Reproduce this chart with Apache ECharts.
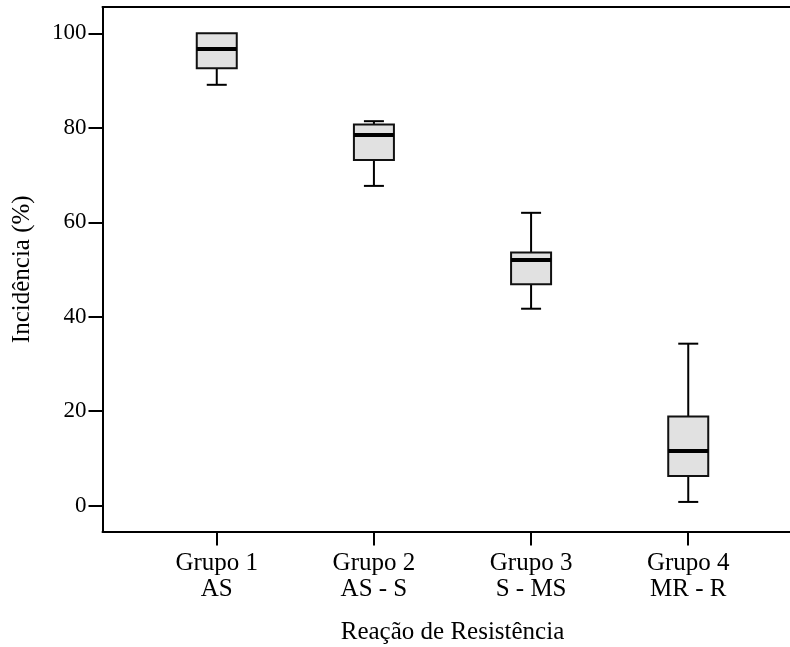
<!DOCTYPE html>
<html>
<head>
<meta charset="utf-8">
<script src="https://cdn.jsdelivr.net/npm/echarts@6/dist/echarts.min.js"></script>
<style>html,body{margin:0;padding:0;background:#fff;overflow:hidden;}#c{width:790px;height:647px;}</style>
</head>
<body>
<div id="c"></div>
<script>
const categories = ['Grupo 1\nAS', 'Grupo 2\nAS - S', 'Grupo 3\nS - MS', 'Grupo 4\nMR - R'];
const lowerWhisker = [89.1, 67.7, 41.7, 0.8];
const q1 = [92.6, 73.2, 46.9, 6.3];
const median = [96.7, 78.5, 52.0, 11.6];
const q3 = [100, 80.7, 53.6, 18.9];
const upperWhisker = [100, 81.4, 62.0, 34.3];
const yTicks = [0, 20, 40, 60, 80, 100];
const xPositions = [1, 2, 3, 4];

const data = categories.map((c, i) => [xPositions[i], lowerWhisker[i], q1[i], median[i], q3[i], upperWhisker[i]]);

const font = 'Liberation Serif';
const chart = echarts.init(document.getElementById('c'), null, {renderer: 'canvas'});

function renderBox(params, api) {
  const x = api.value(0);
  const pLow = api.coord([x, api.value(1)]);
  const pQ1 = api.coord([x, api.value(2)]);
  const pMed = api.coord([x, api.value(3)]);
  const pQ3 = api.coord([x, api.value(4)]);
  const pHigh = api.coord([x, api.value(5)]);
  const cx = pMed[0];
  const bw = 40, cw = 20;
  const line = {stroke: '#000', lineWidth: 2};
  const children = [];
  if (Math.abs(pHigh[1] - pQ3[1]) > 0.5) {
    children.push({type: 'line', shape: {x1: cx, y1: pQ3[1], x2: cx, y2: pHigh[1]}, style: line});
    children.push({type: 'line', shape: {x1: cx - cw / 2, y1: pHigh[1], x2: cx + cw / 2, y2: pHigh[1]}, style: line});
  }
  if (Math.abs(pLow[1] - pQ1[1]) > 0.5) {
    children.push({type: 'line', shape: {x1: cx, y1: pQ1[1], x2: cx, y2: pLow[1]}, style: line});
    children.push({type: 'line', shape: {x1: cx - cw / 2, y1: pLow[1], x2: cx + cw / 2, y2: pLow[1]}, style: line});
  }
  children.push({type: 'rect', shape: {x: cx - bw / 2, y: pQ3[1], width: bw, height: pQ1[1] - pQ3[1]},
    style: {fill: '#e1e1e1', stroke: '#111', lineWidth: 2}});
  children.push({type: 'line', shape: {x1: cx - bw / 2, y1: pMed[1], x2: cx + bw / 2, y2: pMed[1]},
    style: {stroke: '#000', lineWidth: 4}});
  return {type: 'group', children: children};
}

chart.setOption({
  animation: false,
  backgroundColor: '#fff',
  grid: {left: 102.5, top: 7, width: 700, height: 524.5, outerBoundsMode: 'none', containLabel: false, show: false},
  xAxis: [{
    type: 'value', min: 0.273, max: 4.727,
    splitLine: {show: false},
    axisLine: {show: true, onZero: false, lineStyle: {color: '#000', width: 2}},
    axisTick: {show: true, customValues: xPositions, length: 14, lineStyle: {color: '#000', width: 2}},
    axisLabel: {customValues: xPositions, formatter: v => categories[Math.round(v) - 1], margin: 19,
      fontFamily: font, fontSize: 25, lineHeight: 26, color: '#000', align: 'center'},
    name: 'Reação de Resistência', nameLocation: 'middle', nameGap: 88,
    nameTextStyle: {fontFamily: font, fontSize: 25, color: '#000'}
  }, {
    type: 'value', position: 'top', min: 0.273, max: 4.727,
    splitLine: {show: false},
    axisLine: {show: true, onZero: false, lineStyle: {color: '#000', width: 2}},
    axisTick: {show: false}, axisLabel: {show: false}
  }],
  yAxis: {
    type: 'value', min: -5.46, max: 105.57,
    splitLine: {show: false},
    axisLine: {show: true, onZero: false, lineStyle: {color: '#000', width: 2}},
    axisTick: {show: true, customValues: yTicks, length: 14, lineStyle: {color: '#000', width: 2}},
    axisLabel: {customValues: yTicks, margin: 16, fontFamily: font, fontSize: 23, color: '#000'},
    name: 'Incidência (%)', nameLocation: 'middle', nameGap: 68,
    nameTextStyle: {fontFamily: font, fontSize: 25, color: '#000'}
  },
  series: [{
    type: 'custom',
    renderItem: renderBox,
    encode: {x: 0, y: [1, 2, 3, 4, 5]},
    data: data,
    clip: false
  }]
});
</script>
</body>
</html>
